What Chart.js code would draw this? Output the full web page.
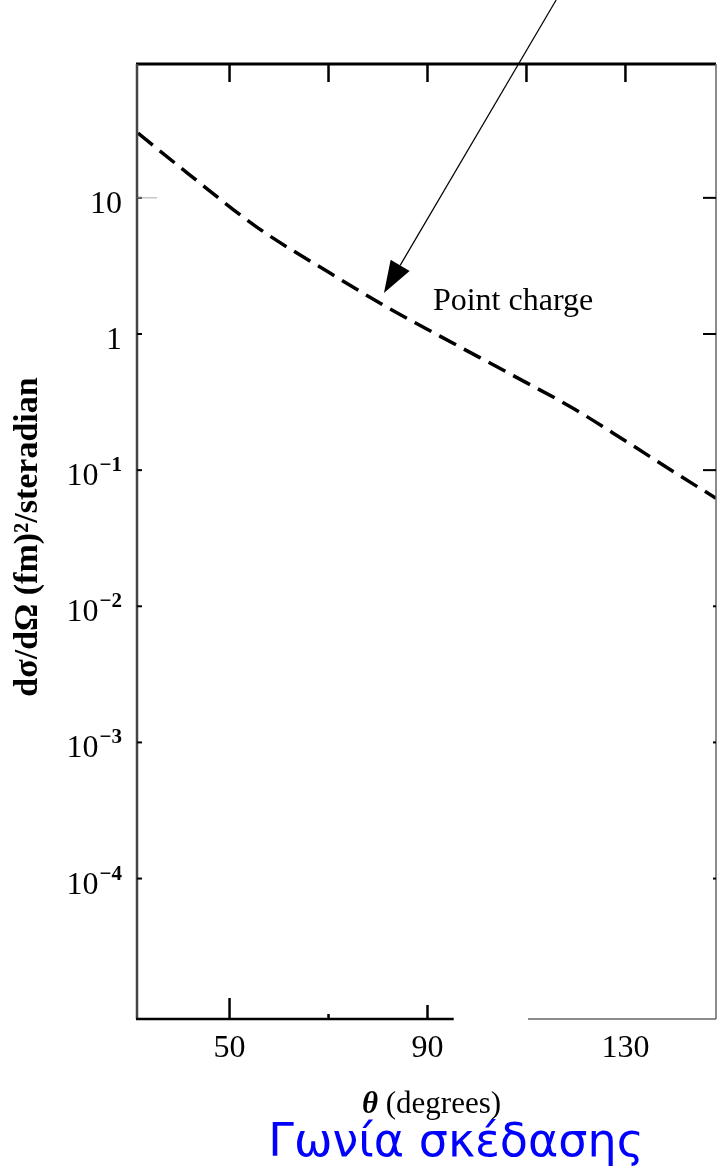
<!DOCTYPE html>
<html>
<head>
<meta charset="utf-8">
<script src="https://cdn.jsdelivr.net/npm/chart.js@4.4.1/dist/chart.umd.min.js"></script>
<style>
  html, body { margin: 0; padding: 0; background: #fff; }
  #wrap { width: 718px; height: 1166px; }
</style>
</head>
<body>
<div id="wrap"><canvas id="c" width="718" height="1166"></canvas></div>
<script>
// ---- data ----
const thetaDeg     = [31.5, 42.0, 55.5, 70.3, 81.8, 92.5, 107.9, 119.4, 130.1, 140.8, 148.3];
const crossSection = [29.9, 14.7, 6.10, 2.80, 1.576, 0.965, 0.482, 0.285, 0.163, 0.0919, 0.0622];

const xTickValues = [50, 90, 130];
const xTickLabels = ["50", "90", "130"];
const yTickValues = [10, 1, 0.1, 0.01, 0.001, 0.0001];
const yTickBase   = ["10", "1", "10", "10", "10", "10"];
const yTickExp    = ["", "", "\u22121", "\u22122", "\u22123", "\u22124"];

const xMin = 31.3, xMax = 148.3;
const yMin = 9.3e-6, yMax = 96.2;

const topTickValues = [50, 70, 90, 110, 130];
const bottomTickValues = [50, 70, 90];
const bottomTickLengths = [21, 5, 14];
const bottomAxisGap = [95.3, 110.3];   // scan gap in the bottom axis (degrees)

const curveLabel = "Point charge";
const curveLabelAt = [91.1, 1.50];     // (theta, value)
const arrowTail = [116.0, 284];
const arrowTip  = [81.2, 2.0];

const xTitleSymbol = "\u03b8";
const xTitleText = " (degrees)";
const subtitle = "\u0393\u03c9\u03bd\u03af\u03b1 \u03c3\u03ba\u03ad\u03b4\u03b1\u03c3\u03b7\u03c2";
const yTitle = "d\u03c3/d\u03a9 (fm)\u00b2/steradian";

const SERIF = "'Liberation Serif', 'Times New Roman', serif";

const decor = {
  id: 'decor',
  afterDraw(chart) {
    const ctx = chart.ctx;
    const xs = chart.scales.x, ys = chart.scales.y;
    const a = chart.chartArea;
    ctx.save();
    ctx.lineCap = 'butt';
    // borders
    ctx.strokeStyle = '#000';
    ctx.lineWidth = 3;
    ctx.beginPath(); ctx.moveTo(a.left - 1, a.top); ctx.lineTo(a.right, a.top); ctx.stroke();
    ctx.strokeStyle = '#444';
    ctx.lineWidth = 2.5;
    ctx.beginPath(); ctx.moveTo(a.left, a.top); ctx.lineTo(a.left, a.bottom); ctx.stroke();
    ctx.strokeStyle = '#000';
    ctx.lineWidth = 2.5;
    ctx.beginPath(); ctx.moveTo(a.left - 1, a.bottom); ctx.lineTo(xs.getPixelForValue(bottomAxisGap[0]), a.bottom); ctx.stroke();
    ctx.strokeStyle = '#666';
    ctx.lineWidth = 1.5;
    ctx.beginPath(); ctx.moveTo(xs.getPixelForValue(bottomAxisGap[1]), a.bottom); ctx.lineTo(a.right, a.bottom); ctx.stroke();
    ctx.beginPath(); ctx.moveTo(a.right, a.top); ctx.lineTo(a.right, a.bottom); ctx.stroke();

    // top ticks (inward)
    ctx.strokeStyle = '#000';
    ctx.lineWidth = 2.5;
    topTickValues.forEach(v => {
      const x = xs.getPixelForValue(v);
      ctx.beginPath(); ctx.moveTo(x, a.top); ctx.lineTo(x, a.top + 18); ctx.stroke();
    });
    // bottom ticks (inward)
    bottomTickValues.forEach((v, i) => {
      const x = xs.getPixelForValue(v);
      ctx.beginPath(); ctx.moveTo(x, a.bottom); ctx.lineTo(x, a.bottom - bottomTickLengths[i]); ctx.stroke();
    });
    // left / right decade ticks
    yTickValues.forEach((v, i) => {
      const y = ys.getPixelForValue(v);
      ctx.strokeStyle = '#000';
      ctx.lineWidth = 2;
      ctx.beginPath(); ctx.moveTo(a.left, y); ctx.lineTo(a.left + 5, y); ctx.stroke();
      const len = i < 3 ? 13 : 3;
      ctx.beginPath(); ctx.moveTo(a.right, y); ctx.lineTo(a.right - len, y); ctx.stroke();
      if (i === 0) {
        ctx.strokeStyle = '#aaa';
        ctx.lineWidth = 1;
        ctx.beginPath(); ctx.moveTo(a.left, y); ctx.lineTo(a.left + 20, y); ctx.stroke();
      }
    });

    // y tick labels with superscripts
    ctx.fillStyle = '#000';
    ctx.textBaseline = 'alphabetic';
    yTickValues.forEach((v, i) => {
      const y = ys.getPixelForValue(v);
      const right = a.left - 15;
      if (yTickExp[i]) {
        ctx.font = `bold 21px ${SERIF}`;
        const ew = ctx.measureText(yTickExp[i]).width;
        ctx.textAlign = 'right';
        ctx.fillText(yTickExp[i], right, y + 1);
        ctx.font = `32px ${SERIF}`;
        ctx.fillText(yTickBase[i], right - ew - 1, y + 15);
      } else {
        ctx.font = `32px ${SERIF}`;
        ctx.textAlign = 'right';
        ctx.fillText(yTickBase[i], right, y + 15);
      }
    });

    // y axis title
    ctx.save();
    ctx.translate(28, 537);
    ctx.rotate(-Math.PI / 2);
    ctx.font = `bold 34px ${SERIF}`;
    ctx.textAlign = 'center';
    ctx.textBaseline = 'middle';
    ctx.fillText(yTitle, 0, 0);
    ctx.restore();

    // x axis title
    ctx.textBaseline = 'alphabetic';
    ctx.textAlign = 'left';
    ctx.font = `bold italic 31px ${SERIF}`;
    const w1 = ctx.measureText(xTitleSymbol).width;
    ctx.font = `31px ${SERIF}`;
    const w2 = ctx.measureText(xTitleText).width;
    const cx = xs.getPixelForValue(90) + 4;
    let sx = cx - (w1 + w2) / 2;
    ctx.font = `bold italic 31px ${SERIF}`;
    ctx.fillText(xTitleSymbol, sx, 1113);
    ctx.font = `31px ${SERIF}`;
    ctx.fillText(xTitleText, sx + w1, 1113);

    // Greek subtitle
    ctx.fillStyle = '#0000ff';
    ctx.font = `46px 'DejaVu Sans', sans-serif`;
    ctx.textAlign = 'center';
    ctx.fillText(subtitle, 456, 1156);

    // curve label
    ctx.fillStyle = '#000';
    ctx.textAlign = 'left';
    ctx.font = `32px ${SERIF}`;
    ctx.fillText(curveLabel, xs.getPixelForValue(curveLabelAt[0]), ys.getPixelForValue(curveLabelAt[1]));

    // arrow
    const tx = xs.getPixelForValue(arrowTail[0]), ty = ys.getPixelForValue(arrowTail[1]);
    const hx = xs.getPixelForValue(arrowTip[0]), hy = ys.getPixelForValue(arrowTip[1]);
    const ang = Math.atan2(hy - ty, hx - tx);
    const L = 32, H = 11;
    const bx = hx - L * Math.cos(ang), by = hy - L * Math.sin(ang);
    ctx.strokeStyle = '#000';
    ctx.lineWidth = 1.2;
    ctx.beginPath(); ctx.moveTo(tx, ty); ctx.lineTo(bx, by); ctx.stroke();
    ctx.beginPath();
    ctx.moveTo(hx, hy);
    ctx.lineTo(bx + H * Math.sin(ang), by - H * Math.cos(ang));
    ctx.lineTo(bx - H * Math.sin(ang), by + H * Math.cos(ang));
    ctx.closePath();
    ctx.fillStyle = '#000';
    ctx.fill();
    ctx.restore();
  }
};

new Chart(document.getElementById('c'), {
  type: 'line',
  data: {
    datasets: [{
      data: thetaDeg.map((t, i) => ({ x: t, y: crossSection[i] })),
      borderColor: '#000',
      borderWidth: 3.5,
      borderDash: [19, 9],
      pointRadius: 0,
      cubicInterpolationMode: 'monotone',
      fill: false
    }]
  },
  options: {
    responsive: false,
    animation: false,
    devicePixelRatio: 1,
    layout: { padding: { top: 64, right: 2, bottom: 0, left: 0 } },
    plugins: { legend: { display: false }, tooltip: { enabled: false } },
    scales: {
      x: {
        type: 'linear',
        min: xMin, max: xMax,
        grid: { display: false, drawTicks: false },
        border: { display: false },
        afterBuildTicks: s => { s.ticks = xTickValues.map(v => ({ value: v })); },
        afterFit: s => { s.height = 147; },
        ticks: {
          color: '#000',
          font: { family: SERIF, size: 32 },
          padding: 10,
          maxRotation: 0,
          callback: (v) => { const i = xTickValues.indexOf(v); return i >= 0 ? xTickLabels[i] : ''; }
        }
      },
      y: {
        type: 'logarithmic',
        min: yMin, max: yMax,
        grid: { display: false, drawTicks: false },
        border: { display: false },
        afterBuildTicks: s => { s.ticks = yTickValues.map(v => ({ value: v })); },
        afterFit: s => { s.width = 137; },
        ticks: { display: false }
      }
    }
  },
  plugins: [decor]
});
</script>
</body>
</html>
